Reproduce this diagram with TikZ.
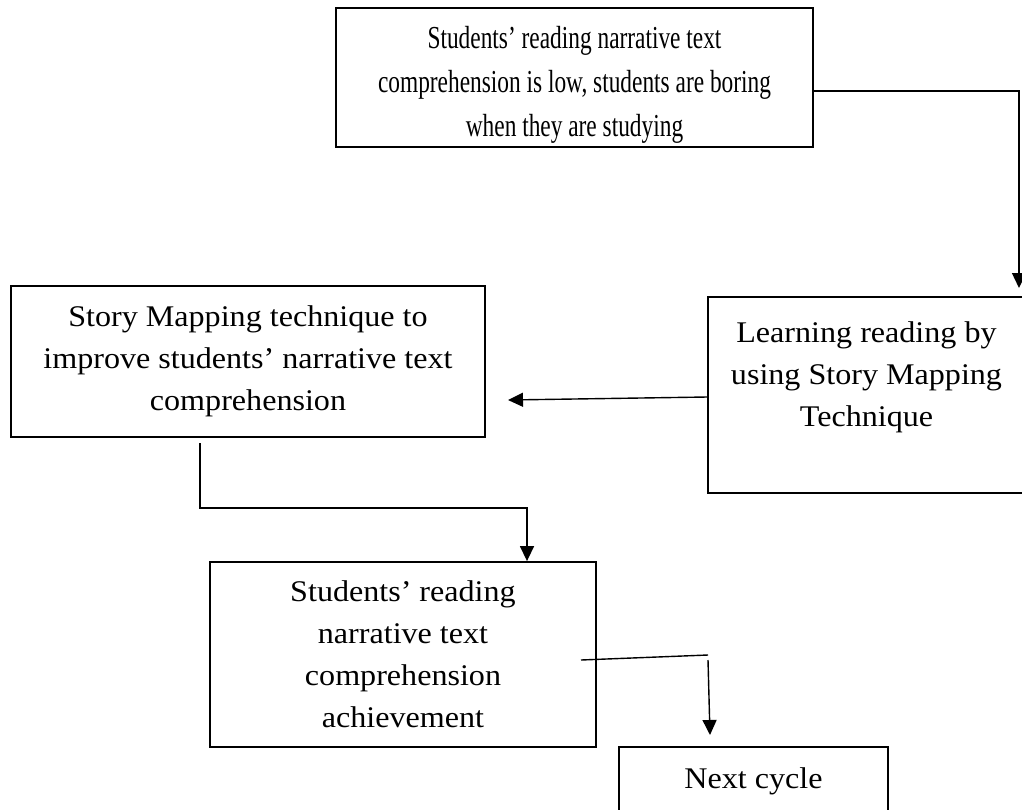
\documentclass[tikz,border=0pt]{standalone}
\usepackage{fontspec}
\setmainfont{Liberation Serif}
\newfontfamily\boxfont{Liberation Serif}[FakeStretch=1.07]
\newfontfamily\topfont{Liberation Serif}[FakeStretch=0.73]
\usetikzlibrary{arrows.meta, positioning}
\tikzset{
  box/.style   = {draw=black, line width=1.8pt, rectangle, align=center,
                  inner sep=0pt, font=\boxfont\fontsize{30}{42}\selectfont},
  tbox/.style  = {box, font=\topfont\fontsize{32}{44}\selectfont},
  arrow/.style = {-{Triangle[length=15pt, width=14pt]}, line width=1.4pt},
  link/.style  = {line width=1.4pt},
}

\begin{document}
\begin{tikzpicture}[x=1pt, y=-1pt]
  \useasboundingbox (0,0) rectangle (1022,809);
  % boxes
  \node[tbox, minimum width=477pt, minimum height=139pt] (problem) at (574.5,77.5)
    {\rule{0pt}{36pt}Students’ reading narrative text\\ comprehension is low, students are boring\\ when they are studying};
  \node[box, minimum width=317pt, minimum height=196pt] (learn) at (866.5,395)
    {Learning reading by\\ using Story Mapping\\ Technique\\ \mbox{}};
  \node[box, minimum width=474pt, minimum height=151pt] (story) at (248,361.5)
    {Story Mapping technique to\\ improve students’ narrative text\\ comprehension};
  \node[box, minimum width=386pt, minimum height=185pt] (achv) at (403,654.5)
    {Students’ reading\\ narrative text\\ comprehension\\ achievement};
  \node[box, minimum width=269pt, minimum height=104pt] (next) at (753.5,799)
    {Next cycle\\ \mbox{}};
  % free ends
  \coordinate (p1) at (1019,288);
  \coordinate (p2) at (508,400);
  \coordinate (p3) at (200,443);
  \coordinate (p4) at (581,660);
  \coordinate (p5) at (708,655);
  \coordinate (p6) at (708,660);
  \coordinate (p7) at (710,735);
  % connectors
  \draw[arrow] (problem.east |- 0,91) -| (p1);
  \draw[arrow] (learn.west |- 0,397) -- (p2);
  \draw[arrow] (p3) |- (527,508) -- (527,508 |- achv.north);
  \draw[link] (p4) -- (p5);
  \draw[arrow] (p6) -- (p7);
\end{tikzpicture}
\end{document}
